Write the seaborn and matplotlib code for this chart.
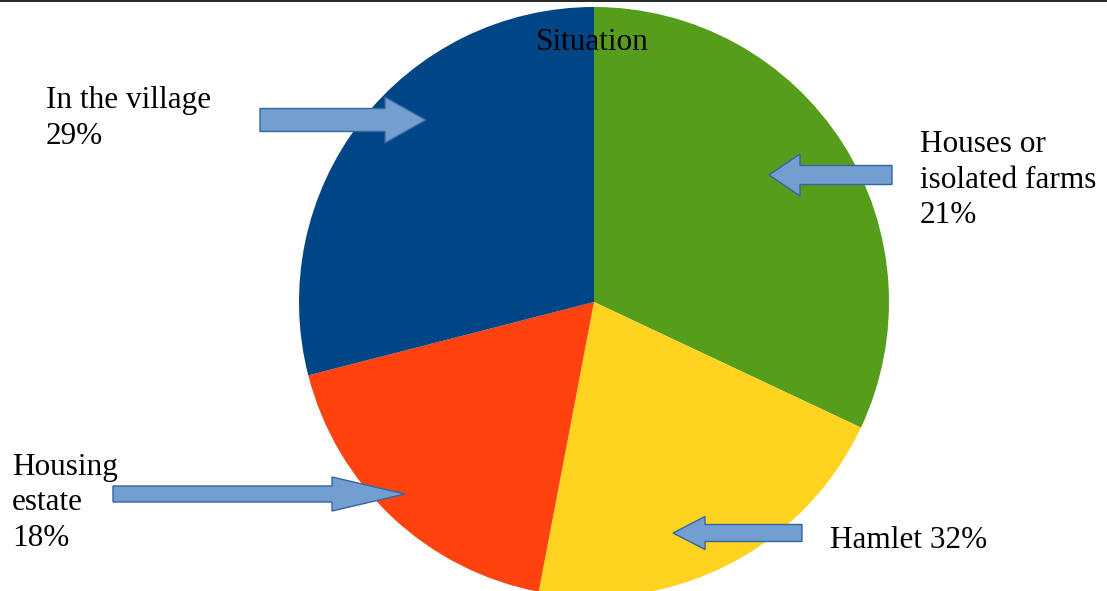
import matplotlib
matplotlib.use("Agg")
import matplotlib.pyplot as plt
from matplotlib.lines import Line2D
from matplotlib.patches import FancyArrow
import seaborn as sns

# Slices, clockwise from 12 o'clock
shares = [32, 21, 18, 29]
slice_colors = ["#579d1c", "#ffd320", "#ff420e", "#004586"]

# Callout texts as printed next to each slice
label_texts = [
    "Houses or\nisolated farms\n21%",
    "Hamlet 32%",
    "Housing\nestate\n18%",
    "In the village\n29%",
]
chart_title = "Situation"

W, H = 1107, 591

# layout in pixels (x, first baseline) for each callout, and its arrow
# arrow: tail x, y, tip x, shaft width, head width, head length
label_pos = [(920, 152), (830, 548), (12, 475), (46, 108)]
arrows = [
    (892, 175, 769, 19, 42, 31),
    (802, 533, 673, 17, 33, 32),
    (113, 494, 405, 16, 34, 73),
    (260, 120, 426, 23, 46, 41),
]
line_step = 35.5


def py(y):
    # image y (down) -> axes y (up)
    return H - y


sns.set_theme(style="white")
plt.rcParams["font.family"] = ["Liberation Serif", "DejaVu Serif"]

fig = plt.figure(figsize=(W / 100, H / 100), dpi=100)
ax = fig.add_axes([0, 0, 1, 1])

ax.pie(shares, colors=slice_colors, startangle=90, counterclock=False,
       center=(594, py(302)), radius=295, wedgeprops=dict(linewidth=0))
ax.set_xlim(0, W)
ax.set_ylim(0, H)
ax.set_aspect("auto")
ax.axis("off")

for (tx, ty, tip, sw, hw, hl) in arrows:
    ax.add_patch(FancyArrow(tx, py(ty), tip - tx, 0, width=sw, head_width=hw,
                            head_length=hl, length_includes_head=True,
                            facecolor="#729fcf", edgecolor="#3465a4", lw=1, zorder=3))

for text, (x, y0) in zip(label_texts, label_pos):
    for i, line in enumerate(text.split("\n")):
        ax.text(x, py(y0 + i * line_step), line, fontsize=22.5, color="black",
                ha="left", va="baseline", zorder=4)

ax.text(592, py(50), chart_title, fontsize=22.5, color="black",
        ha="center", va="baseline", zorder=4)

# thin dark rule along the top edge
fig.add_artist(Line2D([0, 1], [1 - 1 / H, 1 - 1 / H], transform=fig.transFigure,
                      color="#2b2b2b", lw=1.44))

fig.savefig("out.png", dpi=100)
